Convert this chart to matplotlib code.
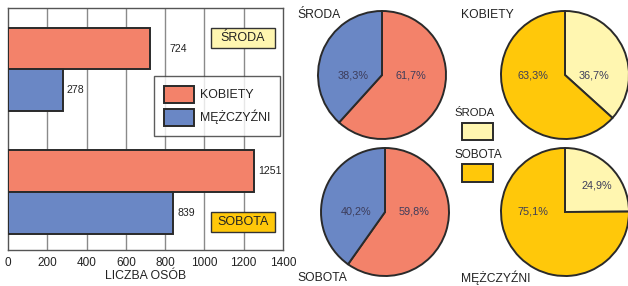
import numpy as np
import matplotlib.pyplot as plt
from matplotlib.patches import Rectangle

# dane
days = ['ŚRODA', 'SOBOTA']
women = [724, 1251]
men = [278, 839]
series = ['KOBIETY', 'MĘŻCZYŹNI']
xticks = [0, 200, 400, 600, 800, 1000, 1200, 1400]

# udziały procentowe na wykresach kołowych
day_pct = {'ŚRODA': [61.7, 38.3], 'SOBOTA': [59.8, 40.2]}      # kobiety, mężczyźni
sex_pct = {'KOBIETY': [36.7, 63.3], 'MĘŻCZYŹNI': [24.9, 75.1]}  # środa, sobota

c_women = '#F3826A'
c_men = '#6A87C5'
c_wed = '#FFF6B0'
c_sat = '#FFC80A'
edge = '#2a2a2a'
txt = '#222222'
pie_txt = '#3c3c5a'

W, H = 628, 286
fig = plt.figure(figsize=(W / 100, H / 100), dpi=100)
plt.rcParams['font.family'] = ['Liberation Sans', 'DejaVu Sans']


def px_axes(left, top, right, bottom):
    return fig.add_axes([left / W, 1 - bottom / H, (right - left) / W, (bottom - top) / H])


# wykres słupkowy
ax = px_axes(8, 8, 283, 250)
y = np.arange(len(days))
h = 0.34
ax.barh(y - h / 2, women, height=h, color=c_women, edgecolor=edge, linewidth=1.4, zorder=3, label=series[0])
ax.barh(y + h / 2, men, height=h, color=c_men, edgecolor=edge, linewidth=1.4, zorder=3, label=series[1])
ax.set_xlim(0, 1400)
ax.set_ylim(1.47, -0.5)
ax.set_yticks([])
ax.set_xticks(xticks)
ax.tick_params(axis='x', length=0, pad=5, labelsize=8.5, colors=txt)
ax.set_xlabel('LICZBA OSÓB', fontsize=8.8, color=txt, labelpad=1)
for x in xticks[1:-1]:
    ax.axvline(x, color='#8a8a8a', lw=1, zorder=1)
for s in ax.spines.values():
    s.set_color('#555555')
    s.set_linewidth(1)

offsets = [[14, 3], [3, 3.5]]
for i in range(len(days)):
    ax.annotate(str(women[i]), (women[i], y[i] - h / 2), xytext=(offsets[0][i], 0),
                textcoords='offset points', va='center', ha='left', fontsize=7.6, color=txt)
    ax.annotate(str(men[i]), (men[i], y[i] + h / 2), xytext=(offsets[1][i], 0),
                textcoords='offset points', va='center', ha='left', fontsize=7.6, color=txt)

leg = ax.legend(loc='upper left', bbox_to_anchor=(0.531, 0.719), borderaxespad=0, fontsize=8.9,
                frameon=True, fancybox=False, edgecolor='#333333', handlelength=2.45, handleheight=1.75,
                borderpad=0.78, labelspacing=0.5, handletextpad=0.5)
leg.get_frame().set_linewidth(1)
for t in leg.get_texts():
    t.set_color(txt)

# etykiety dni w wykresie słupkowym
for fc, by, name in [(c_wed, 0.835, days[0]), (c_sat, 0.074, days[1])]:
    ax.add_patch(Rectangle((0.738, by), 0.233, 0.082, transform=ax.transAxes, fc=fc, ec='#333333',
                           lw=1, zorder=5))
    ax.text(0.738 + 0.1165, by + 0.041, name, transform=ax.transAxes, ha='center', va='center',
            fontsize=9, color=txt, zorder=6)

# wykresy kołowe
r = 64


def draw_pie(cx, cy, values, colors, label_pos):
    a = px_axes(cx - r, cy - r, cx + r, cy + r)
    wedges, _ = a.pie(values, colors=colors, startangle=90, counterclock=False, radius=1,
                      wedgeprops=dict(edgecolor=edge, linewidth=1.4))
    for w in wedges:
        w.set_clip_on(False)
    a.set_xlim(-1, 1)
    a.set_ylim(-1, 1)
    a.set_aspect('equal')
    a.axis('off')
    for v, (lx, ly) in zip(values, label_pos):
        a.text(lx, ly, f'{v:.1f}%'.replace('.', ','), ha='center', va='center', fontsize=7.8, color=pie_txt)


draw_pie(382, 75, day_pct['ŚRODA'], [c_women, c_men], [(0.45, 0), (-0.45, 0)])
draw_pie(385, 212, day_pct['SOBOTA'], [c_women, c_men], [(0.45, 0), (-0.45, 0)])
draw_pie(565, 75, sex_pct['KOBIETY'], [c_wed, c_sat], [(0.45, 0), (-0.5, 0)])
draw_pie(565, 212, sex_pct['MĘŻCZYŹNI'], [c_wed, c_sat], [(0.5, 0.42), (-0.5, 0)])

fs = 8.7
fig.text(297 / W, 1 - 15 / H, days[0], ha='left', va='center', fontsize=fs, color=txt)
fig.text(297 / W, 1 - 278 / H, days[1], ha='left', va='center', fontsize=fs, color=txt)
fig.text(461 / W, 1 - 15 / H, series[0], ha='left', va='center', fontsize=fs, color=txt)
fig.text(461 / W, 1 - 278 / H, series[1], ha='left', va='center', fontsize=fs, color=txt)

# legenda środka
fig.text(475 / W, 1 - 113 / H, days[0], ha='center', va='center', fontsize=8.2, color=txt)
fig.text(478 / W, 1 - 155 / H, days[1], ha='center', va='center', fontsize=8.5, color=txt)
fig.patches.append(Rectangle((462 / W, 1 - 140 / H), 31 / W, 17 / H, transform=fig.transFigure,
                             fc=c_wed, ec=edge, lw=1.4))
fig.patches.append(Rectangle((462 / W, 1 - 182 / H), 31 / W, 18 / H, transform=fig.transFigure,
                             fc=c_sat, ec=edge, lw=1.4))

fig.savefig('out.png', dpi=100, facecolor='white')
